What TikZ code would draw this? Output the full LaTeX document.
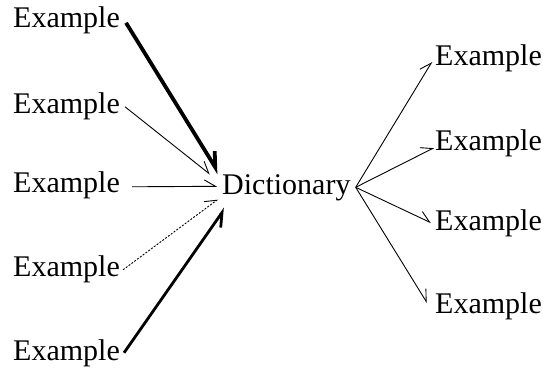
\documentclass[tikz,border=0pt]{standalone}
\usepackage{fontspec}
\setmainfont{Liberation Serif}
\newfontfamily\timesfam{Liberation Serif}
\usetikzlibrary{arrows.meta,calc}
\tikzset{
  lab/.style={inner sep=0pt, anchor=base west, font=\timesfam\fontsize{30}{35}\selectfont},
  barbhead/.style={-{Straight Barb[harpoon,length=11pt,width=13pt]}},
  thinconn/.style={line width=0.9pt, barbhead},
}
\begin{document}
\begin{tikzpicture}[x=1pt,y=-1pt]
\useasboundingbox (0,0) rectangle (548,369);
% left column
\node[lab] (L1) at (13,28) {Example};
\node[lab] (L2) at (13,113) {Example};
\node[lab] (L3) at (13,192) {Example};
\node[lab] (L4) at (13,276) {Example};
\node[lab] (L5) at (13,360) {Example};
% centre
\node[lab] (D) at (222,194) {Dictionary};
% right column
\node[lab] (R1) at (435,66) {Example};
\node[lab] (R2) at (435,150) {Example};
\node[lab] (R3) at (435,230) {Example};
\node[lab] (R4) at (435,313) {Example};
% incoming connectors
\draw[line width=3.8pt, -{Straight Barb[harpoon,length=14pt,width=16pt]}]
  ($(L1.east)+(6,2)$) -- ($(D.west)+(-3,-14)$);
\draw[thinconn] ($(L2.east)+(5,1)$) -- ($(D.west)+(-12,-13)$);
\draw[thinconn] ($(L3.east)+(12,2)$) -- ($(D.west)+(-5,-1)$);
\draw[thinconn, dash pattern=on 2pt off 1.5pt] ($(L4.east)+(3,1)$) -- ($(D.west)+(-4,12)$);
\draw[line width=2.8pt, -{Straight Barb[harpoon,swap,length=13pt,width=15pt]}]
  ($(L5.east)+(4,0)$) -- ($(D.west)+(3,21)$);
% outgoing connectors
\coordinate (Dout) at ($(D.east)+(5,0)$);
\draw[thinconn] (Dout) -- ($(R1.west)+(-3,3)$);
\draw[thinconn] (Dout) -- ($(R2.west)+(-1,5)$);
\draw[thinconn] (Dout) -- ($(R3.west)+(-4,0)$);
\draw[thinconn] (Dout) -- ($(R4.west)+(-8,-3)$);
\end{tikzpicture}
\end{document}
